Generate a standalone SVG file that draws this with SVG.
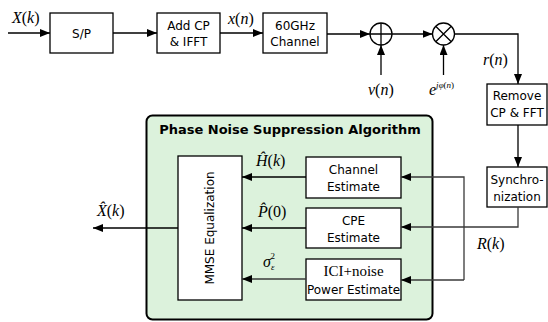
<svg xmlns="http://www.w3.org/2000/svg" width="548" height="322" viewBox="0 0 548 322">
<style>
.box{fill:#fff;stroke:#000;stroke-width:1.3}
.t{font-family:"DejaVu Sans",Verdana,sans-serif;font-size:12px;fill:#000;text-anchor:middle}
.m{font-family:"Liberation Serif","Times New Roman",serif;font-size:16px;fill:#000}
.i{font-style:italic}
.ln{fill:none;stroke:#000;stroke-width:1.3}
.lg{fill:none;stroke:#3a3a3a;stroke-width:1.3}
</style>
<defs>
<marker id="ah" markerWidth="10" markerHeight="8" refX="10" refY="4" orient="auto" markerUnits="userSpaceOnUse">
<path d="M0,0 L10,4 L0,8 Z" fill="#000"/>
</marker>
</defs>
<rect width="548" height="322" fill="#fff"/>
<g id="psa">
<rect x="146.5" y="115.5" width="286" height="204" rx="6" fill="#dcf2dc" stroke="#000" stroke-width="2"/>
<text x="290" y="134" style="font-family:'DejaVu Sans',Verdana,sans-serif;font-size:13px;font-weight:bold;text-anchor:middle">Phase Noise Suppression Algorithm</text>
</g>
<g id="sp"><rect class="box" x="50" y="13" width="63" height="40"/><text class="t" x="81.5" y="38">S/P</text></g>
<g id="addcp"><rect class="box" x="157" y="13" width="63" height="40"/><text class="t" x="188.5" y="30">Add CP</text><text class="t" x="188.5" y="46">&amp; IFFT</text></g>
<g id="chan"><rect class="box" x="263" y="13" width="64" height="40"/><text class="t" x="295" y="30">60GHz</text><text class="t" x="295" y="46">Channel</text></g>
<g id="adder"><circle cx="381" cy="34" r="11" fill="#fff" stroke="#000" stroke-width="1.3"/><path d="M370,34 H392 M381,23 V45" stroke="#000" stroke-width="1.3"/></g>
<g id="mult"><circle cx="443.5" cy="34" r="11" fill="#fff" stroke="#000" stroke-width="1.3"/><path d="M435.7,26.2 L451.3,41.8 M451.3,26.2 L435.7,41.8" stroke="#000" stroke-width="1.3"/></g>
<g id="remove"><rect class="box" x="487" y="84" width="60" height="41"/><text class="t" x="517" y="100">Remove</text><text class="t" x="517" y="117">CP &amp; FFT</text></g>
<g id="sync"><rect class="box" x="487" y="167" width="60" height="40"/><text class="t" x="517" y="184">Synchro-</text><text class="t" x="517" y="201">nization</text></g>
<g id="mmse"><rect class="box" x="178" y="156" width="64" height="144"/><text class="t" transform="translate(214,228) rotate(-90)">MMSE Equalization</text></g>
<g id="chest"><rect class="box" x="306" y="157" width="95" height="41"/><text class="t" x="353.5" y="174">Channel</text><text class="t" x="353.5" y="191">Estimate</text></g>
<g id="cpe"><rect class="box" x="306" y="208" width="95" height="40"/><text class="t" x="353.5" y="225">CPE</text><text class="t" x="353.5" y="242">Estimate</text></g>
<g id="ici"><rect class="box" x="306" y="259" width="95" height="41"/><text x="353.5" y="276" style="font-family:'Liberation Serif','Times New Roman',serif;font-size:15px;text-anchor:middle">ICI+noise</text><text class="t" x="353.5" y="294">Power Estimate</text></g>
<g id="connectors">
<path class="ln" d="M8,33 H50" marker-end="url(#ah)"/>
<path class="ln" d="M113,33 H157" marker-end="url(#ah)"/>
<path class="ln" d="M220,33 H263" marker-end="url(#ah)"/>
<path class="ln" d="M327,34 H370" marker-end="url(#ah)"/>
<path class="ln" d="M392,34 H432.5" marker-end="url(#ah)"/>
<path class="ln" d="M381,75 V45" marker-end="url(#ah)"/>
<path class="ln" d="M443.5,75 V45" marker-end="url(#ah)"/>
<path class="ln" d="M454.5,34 H518 V84" marker-end="url(#ah)"/>
<path class="ln" d="M518,125 V167" marker-end="url(#ah)"/>
<path class="lg" d="M518,207 V227 H401" marker-end="url(#ah)"/>
<path class="lg" d="M464,280 V177 H401" marker-end="url(#ah)"/>
<path class="lg" d="M464,280 H401" marker-end="url(#ah)"/>
<path class="ln" d="M306,177 H242" marker-end="url(#ah)"/>
<path class="ln" d="M306,228 H242" marker-end="url(#ah)"/>
<path class="lg" d="M306,279 H242" marker-end="url(#ah)"/>
<path class="ln" d="M178,228 H93" marker-end="url(#ah)"/>
</g>
<g id="labels">
<text class="m i" x="12" y="23">X<tspan font-style="normal">(</tspan>k<tspan font-style="normal">)</tspan></text>
<text class="m i" x="228" y="24">x<tspan font-style="normal">(</tspan>n<tspan font-style="normal">)</tspan></text>
<text class="m i" x="368" y="95" font-size="17">v<tspan font-style="normal">(</tspan>n<tspan font-style="normal">)</tspan></text>
<text class="m i" x="429" y="95" font-size="16">e<tspan font-size="9" dy="-7">j<tspan>φ</tspan><tspan font-style="normal">(</tspan>n<tspan font-style="normal">)</tspan></tspan></text>
<text class="m i" x="483" y="65">r<tspan font-style="normal">(</tspan>n<tspan font-style="normal">)</tspan></text>
<text class="m i" x="477" y="249">R<tspan font-style="normal">(</tspan>k<tspan font-style="normal">)</tspan></text>
<text class="m i" x="256" y="166">H&#x302;<tspan font-style="normal">(</tspan>k<tspan font-style="normal">)</tspan></text>
<text class="m i" x="258" y="217">P&#x302;<tspan font-style="normal">(0)</tspan></text>
<text class="m i" x="263" y="267">σ<tspan font-size="9" dy="3">ε</tspan><tspan font-size="9" font-style="normal" dx="-4" dy="-11">2</tspan></text>
<text class="m i" x="97" y="216">X&#x302;<tspan font-style="normal">(</tspan>k<tspan font-style="normal">)</tspan></text>
</g>
</svg>
